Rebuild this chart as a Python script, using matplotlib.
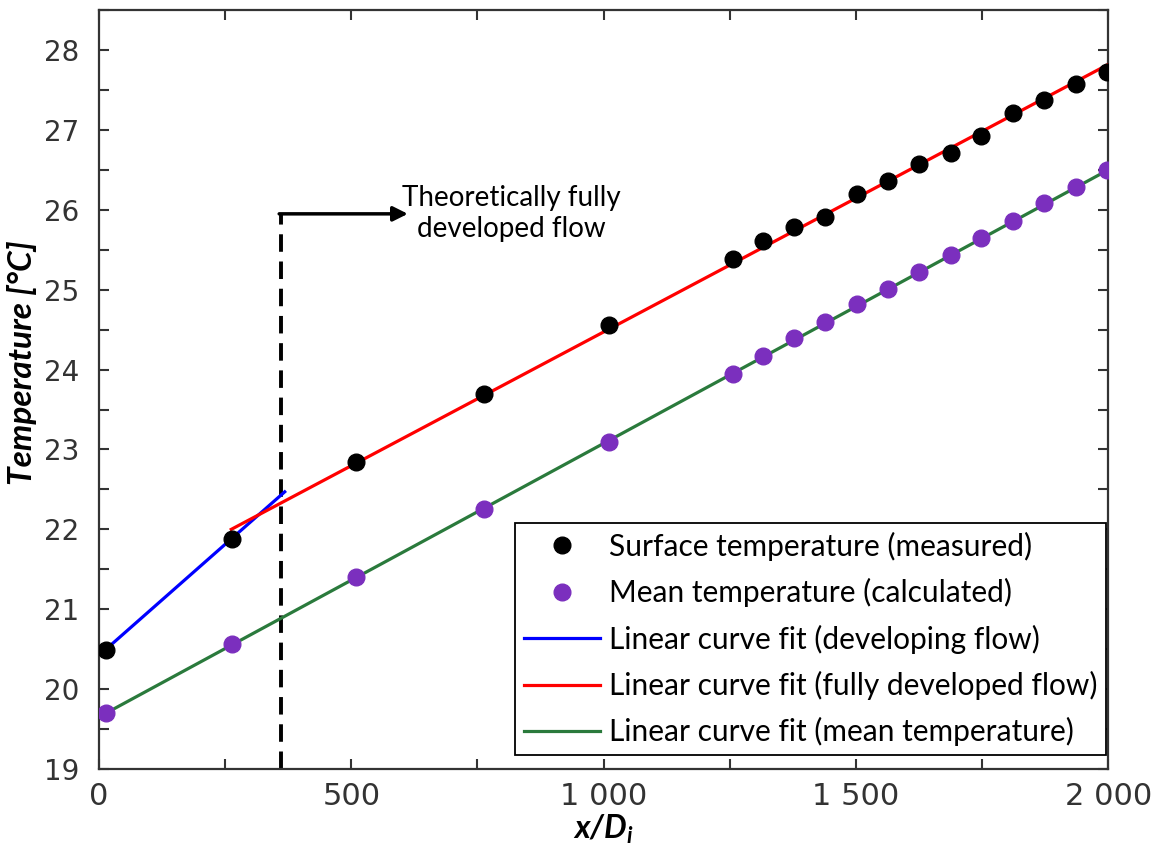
import matplotlib.pyplot as plt
import numpy as np
from matplotlib.ticker import MultipleLocator, FuncFormatter

# surface temperature (measured)
x_surf = [14, 264, 510, 762, 1010, 1256, 1315, 1377, 1438, 1502,
          1563, 1625, 1688, 1748, 1811, 1873, 1937, 1998]
t_surf = [20.49, 21.88, 22.84, 23.69, 24.56, 25.39, 25.61, 25.79, 25.91, 26.20,
          26.36, 26.58, 26.71, 26.93, 27.21, 27.38, 27.58, 27.73]

# mean temperature (calculated)
x_mean = [14, 264, 510, 762, 1010, 1256, 1315, 1377, 1438, 1502,
          1563, 1625, 1688, 1748, 1811, 1873, 1937, 1998]
t_mean = [19.70, 20.56, 21.41, 22.25, 23.10, 23.95, 24.17, 24.39, 24.60, 24.82,
          25.01, 25.22, 25.43, 25.65, 25.86, 26.08, 26.29, 26.50]

# linear fits (end points)
fit_dev_x = [14, 368]
fit_dev_y = [20.50, 22.47]
fit_full_x = [262, 2000]
fit_full_y = [22.00, 27.82]
fit_mean_x = [14, 2000]
fit_mean_y = [19.70, 26.50]

# fully developed flow marker
x_fd = 361
t_fd = 25.95
x_arrow_end = 612

purple = '#7B2FBE'
green = '#2A7A3C'
spine_col = '#333333'

plt.rcParams['mathtext.fontset'] = 'custom'
plt.rcParams['mathtext.bf'] = 'Lato:bold:italic'
plt.rcParams['mathtext.it'] = 'Lato:bold:italic'

fig = plt.figure(figsize=(11.57, 8.46), dpi=100)
ax = fig.add_axes([0.0856, 0.091, 0.8722, 0.897])

ax.plot(x_surf, t_surf, 'o', color='black', ms=12, label='Surface temperature (measured)', zorder=4)
ax.plot(x_mean, t_mean, 'o', color=purple, ms=12, label='Mean temperature (calculated)', zorder=4)
ax.plot(fit_dev_x, fit_dev_y, color='#0000FF', lw=2.3, label='Linear curve fit (developing flow)', zorder=3)
ax.plot(fit_full_x, fit_full_y, color='#FF0000', lw=2.3, label='Linear curve fit (fully developed flow)', zorder=3)
ax.plot(fit_mean_x, fit_mean_y, color=green, lw=2.3, label='Linear curve fit (mean temperature)', zorder=3)

# dashed line + arrow
ax.plot([x_fd, x_fd], [19, t_fd], ls=(0, (4.5, 2.5)), color='black', lw=2.8, zorder=2)
ax.annotate('', xy=(x_arrow_end, t_fd), xytext=(x_fd - 4, t_fd),
            arrowprops=dict(arrowstyle='-|>', color='black', lw=2.5, mutation_scale=22,
                            shrinkA=0, shrinkB=0))
ax.text(x_arrow_end - 12, t_fd, 'Theoretically fully\ndeveloped flow', family='Lato',
        fontsize=20, ha='left', va='center', multialignment='center', linespacing=1.25)

ax.set_xlim(0, 2000)
ax.set_ylim(19, 28.5)

ax.xaxis.set_major_locator(MultipleLocator(500))
ax.xaxis.set_minor_locator(MultipleLocator(250))
ax.yaxis.set_major_locator(MultipleLocator(1))
ax.yaxis.set_minor_locator(MultipleLocator(0.5))
ax.xaxis.set_major_formatter(FuncFormatter(lambda v, p: f'{int(v):,}'.replace(',', ' ')))

ax.tick_params(which='both', direction='in', top=True, right=True,
               length=7, width=1.5, color=spine_col)
ax.tick_params(axis='y', labelsize=20, pad=14, labelcolor='#333333')
ax.tick_params(axis='x', labelsize=22, pad=9, labelcolor='#333333',
               labelfontfamily='Liberation Sans Narrow')
for s in ax.spines.values():
    s.set_color(spine_col)
    s.set_linewidth(1.6)

ax.set_xlabel(r'$\mathbf{x/D_i}$', fontsize=23, labelpad=2)
ax.set_ylabel('Temperature [°C]', family='Lato', fontsize=24, fontweight='bold',
              fontstyle='italic')
ax.yaxis.set_label_coords(-0.061, 0.535)

leg = ax.legend(loc='lower right', bbox_to_anchor=(0.998, 0.018),
                prop={'family': 'Lato', 'size': 21.5}, frameon=True,
                fancybox=False, edgecolor='black', framealpha=1, borderaxespad=0,
                handlelength=2.55, labelspacing=0.58, handletextpad=0.3, borderpad=0.3)
leg.get_frame().set_linewidth(1.3)

fig.savefig('out.png', dpi=100)
